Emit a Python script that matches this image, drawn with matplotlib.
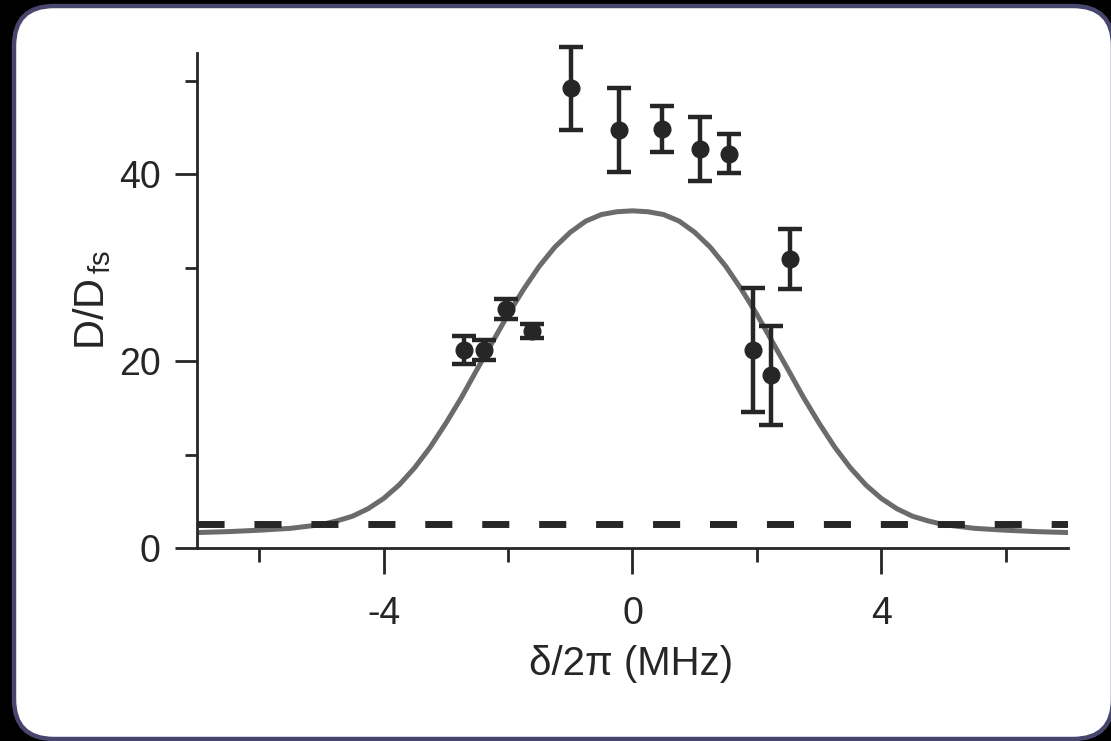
import matplotlib

matplotlib.use("Agg")

import matplotlib.pyplot as plt
from matplotlib.patches import FancyBboxPatch


# Measured diffusion ratio with error bars
detuning = [-2.71, -2.39, -2.04, -1.61, -0.99, -0.21, 0.48, 1.08, 1.55, 1.94, 2.23, 2.53]
ratio = [21.2, 21.2, 25.6, 23.2, 49.2, 44.8, 44.9, 42.7, 42.2, 21.2, 18.5, 30.9]
ratio_err = [1.5, 1.05, 1.1, 0.75, 4.4, 4.5, 2.45, 3.45, 2.1, 6.6, 5.3, 3.2]

# Model curve
curve_x = [
    -7.0, -6.5, -6.0, -5.5, -5.0, -4.75, -4.5, -4.25, -4.0, -3.75, -3.5,
    -3.25, -3.0, -2.75, -2.5, -2.25, -2.0, -1.75, -1.5, -1.25, -1.0,
    -0.75, -0.5, -0.25, 0.0, 0.25, 0.5, 0.75, 1.0, 1.25, 1.5, 1.75,
    2.0, 2.25, 2.5, 2.75, 3.0, 3.25, 3.5, 3.75, 4.0, 4.25, 4.5, 4.75,
    5.0, 5.5, 6.0, 6.5, 7.0
]
curve_y = [
    1.65, 1.75, 1.9, 2.1, 2.5, 2.9, 3.4, 4.2, 5.3, 6.75, 8.6,
    10.8, 13.35, 16.1, 19.1, 22.05, 25.0, 27.7, 30.15, 32.2, 33.8,
    35.0, 35.7, 36.0, 36.1, 36.0, 35.7, 35.0, 33.8, 32.2, 30.15, 27.7,
    25.0, 22.05, 19.1, 16.1, 13.35, 10.8, 8.6, 6.75, 5.3, 4.2, 3.4, 2.9,
    2.5, 2.1, 1.9, 1.75, 1.65
]

# Free-space level
free_space_level = 2.6

x_major = [-4, 0, 4]
x_minor = [-6, -2, 2, 6]
y_major = [0, 20, 40]
y_minor = [10, 30, 50]


INK = "#262626"

plt.rcParams["font.family"] = ["Liberation Sans", "DejaVu Sans"]
plt.rcParams["mathtext.fontset"] = "custom"
plt.rcParams["mathtext.rm"] = "Liberation Sans"
plt.rcParams["mathtext.it"] = "Liberation Sans:italic"


fig = plt.figure(
    figsize=(11.11, 7.41),
    dpi=100,
    facecolor="black"
)


# Rounded white card behind the plot
bg = fig.add_axes([0, 0, 1, 1])
bg.set_xlim(0, 1111)
bg.set_ylim(741, 0)
bg.axis("off")

bg.add_patch(
    FancyBboxPatch(
        (14, 6),
        1099,
        733,
        boxstyle="round,pad=0,rounding_size=40",
        facecolor="white",
        edgecolor="#48466c",
        linewidth=3.2
    )
)


ax = fig.add_axes([0.1773, 0.2605, 0.784, 0.668])
ax.set_facecolor("none")


ax.plot(
    curve_x,
    curve_y,
    color="#6b6b6b",
    linewidth=3.6,
    solid_joinstyle="round",
    zorder=2
)


ax.axhline(
    free_space_level,
    color=INK,
    linewidth=5,
    linestyle=(0, (3.9, 4.3)),
    zorder=3
)


ax.errorbar(
    detuning,
    ratio,
    yerr=ratio_err,
    fmt="o",
    color=INK,
    markersize=12,
    elinewidth=3.2,
    capsize=8.5,
    capthick=3.2,
    clip_on=False,
    zorder=4
)


ax.set_xlim(-7, 7)
ax.set_ylim(0, 53)

for side in ["top", "right"]:
    ax.spines[side].set_visible(False)

for side in ["left", "bottom"]:
    ax.spines[side].set_linewidth(2)
    ax.spines[side].set_color(INK)


ax.set_xticks(x_major)
ax.set_xticks(x_minor, minor=True)
ax.set_yticks(y_major)
ax.set_yticks(y_minor, minor=True)

ax.set_xticklabels(["-4", "0", "4"])

ax.tick_params(
    axis="x",
    which="major",
    length=18.5,
    width=2,
    color=INK,
    pad=16,
    labelsize=27,
    labelcolor=INK
)
ax.tick_params(
    axis="x",
    which="minor",
    length=10,
    width=2,
    color=INK
)
ax.tick_params(
    axis="y",
    which="major",
    length=16,
    width=2,
    color=INK,
    pad=10,
    labelsize=27,
    labelcolor=INK
)
ax.tick_params(
    axis="y",
    which="minor",
    length=8.6,
    width=2,
    color=INK
)


ax.set_xlabel(
    "δ/2π (MHz)",
    fontsize=29,
    color=INK
)
ax.xaxis.set_label_coords(0.498, -0.196)

ax.set_ylabel(
    r"D/D$_{\,\mathrm{fs}}$",
    fontsize=30,
    color=INK
)
ax.yaxis.set_label_coords(-0.096, 0.5)


plt.savefig(
    "out.png",
    dpi=100,
    facecolor=fig.get_facecolor()
)

plt.close()
